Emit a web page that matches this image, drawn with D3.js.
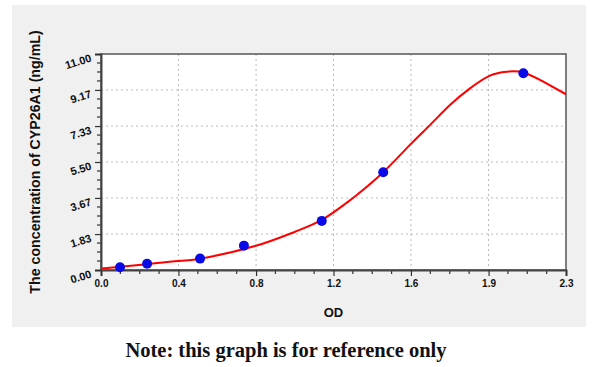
<!DOCTYPE html>
<html>
<head>
<meta charset="utf-8">
<script src="https://cdn.jsdelivr.net/npm/d3@7"></script>
<style>
  body { margin: 0; background: #fff; }
  svg { display: block; }
  text { font-family: "Liberation Sans", Arial, sans-serif; font-weight: bold; fill: #111; }
</style>
</head>
<body>
<div id="vis"></div>
<script>
// tick labels as printed on the reference
var xTickLabels = ["0.0", "0.4", "0.8", "1.2", "1.6", "1.9", "2.3"],
    xTickValues = [0, 0.383, 0.767, 1.15, 1.533, 1.917, 2.3],
    yTickLabels = ["0.00", "1.83", "3.67", "5.50", "7.33", "9.17", "11.00"],
    yTickValues = [0, 1.83, 3.67, 5.5, 7.33, 9.17, 11];

// standards (blue dots)
var odValues   = [0.094, 0.228, 0.490, 0.707, 1.092, 1.396, 2.089],
    concValues = [0.14, 0.32, 0.58, 1.24, 2.50, 4.98, 10.02];

// fitted curve
var fitOD   = [0, 0.069, 0.234, 0.382, 0.498, 0.762, 0.960, 1.092, 1.207, 1.265, 1.396,
               1.528, 1.627, 1.726, 1.825, 1.924, 2.007, 2.089, 2.188, 2.3],
    fitConc = [0.08, 0.14, 0.31, 0.46, 0.59, 1.22, 1.95, 2.55, 3.36, 3.82, 4.98,
               6.37, 7.38, 8.40, 9.25, 9.90, 10.10, 10.06, 9.59, 8.95];

var W = 600, H = 367,
    pL = 101, pT = 54, pR = 566, pB = 270;

var x = d3.scaleLinear().domain([0, 2.3]).range([pL, pR]),
    y = d3.scaleLinear().domain([0, 11]).range([pB, pT]);

var svg = d3.select("#vis").append("svg")
    .attr("width", W)
    .attr("height", H);

// grey panel
svg.append("rect")
    .attr("x", 12).attr("y", 5)
    .attr("width", 574).attr("height", 322)
    .attr("fill", "#f0f0f0");

svg.append("rect")
    .attr("x", pL).attr("y", pT)
    .attr("width", pR - pL).attr("height", pB - pT)
    .attr("fill", "#fff");

// dotted grid
svg.append("g").selectAll("line")
    .data(xTickValues.slice(1, -1))
  .enter().append("line")
    .attr("x1", function(d) { return x(d); })
    .attr("x2", function(d) { return x(d); })
    .attr("y1", pT).attr("y2", pB)
    .attr("stroke", "#bbb").attr("stroke-dasharray", "2,3");

svg.append("g").selectAll("line")
    .data(yTickValues.slice(1, -1))
  .enter().append("line")
    .attr("y1", function(d) { return y(d); })
    .attr("y2", function(d) { return y(d); })
    .attr("x1", pL).attr("x2", pR)
    .attr("stroke", "#bbb").attr("stroke-dasharray", "2,3");

// frame
svg.append("rect")
    .attr("x", pL).attr("y", pT)
    .attr("width", pR - pL).attr("height", pB - pT)
    .attr("fill", "none")
    .attr("stroke", "#555").attr("stroke-width", 1.5);

// minor ticks, 4 intervals per major
var xMinor = [], yMinor = [];
for (var i = 0; i < xTickValues.length - 1; i++) {
  for (var k = 1; k < 4; k++) {
    xMinor.push(xTickValues[i] + (xTickValues[i + 1] - xTickValues[i]) * k / 4);
    yMinor.push(yTickValues[i] + (yTickValues[i + 1] - yTickValues[i]) * k / 4);
  }
}

var xAxis = svg.append("g")
    .attr("transform", "translate(0," + pB + ")");
xAxis.selectAll("line.minor")
    .data(xMinor)
  .enter().append("line")
    .attr("x1", function(d) { return x(d); })
    .attr("x2", function(d) { return x(d); })
    .attr("y1", 0).attr("y2", 4)
    .attr("stroke", "#333").attr("stroke-width", 1.2);
xAxis.call(d3.axisBottom(x)
    .tickValues(xTickValues)
    .tickFormat(function(d, i) { return xTickLabels[i]; })
    .tickSize(6).tickPadding(4));

var yAxis = svg.append("g")
    .attr("transform", "translate(" + pL + ",0)");
yAxis.selectAll("line.minor")
    .data(yMinor)
  .enter().append("line")
    .attr("y1", function(d) { return y(d); })
    .attr("y2", function(d) { return y(d); })
    .attr("x1", 0).attr("x2", -4)
    .attr("stroke", "#333").attr("stroke-width", 1.2);
yAxis.call(d3.axisLeft(y)
    .tickValues(yTickValues)
    .tickFormat(function(d, i) { return yTickLabels[i]; })
    .tickSize(6));

svg.selectAll(".domain").attr("stroke", "#444").attr("stroke-width", 2);
svg.selectAll(".tick line").attr("stroke", "#333").attr("stroke-width", 1.2);

xAxis.selectAll(".tick text")
    .style("font-size", "10px")
    .attr("fill", "#111");

// y labels are slanted
yAxis.selectAll(".tick text")
    .style("font-size", "11px")
    .attr("fill", "#111")
    .attr("x", -10).attr("dy", null).attr("y", 7)
    .attr("transform", "rotate(-17,-10,3)");

// fitted curve
svg.append("clipPath").attr("id", "clip")
  .append("rect")
    .attr("x", pL).attr("y", pT)
    .attr("width", pR - pL).attr("height", pB - pT);

var line = d3.line()
    .x(function(d) { return x(d[0]); })
    .y(function(d) { return y(d[1]); })
    .curve(d3.curveNatural);

svg.append("path")
    .datum(d3.zip(fitOD, fitConc))
    .attr("clip-path", "url(#clip)")
    .attr("d", line)
    .attr("fill", "none")
    .attr("stroke", "#ff0000")
    .attr("stroke-width", 2);

svg.selectAll("circle")
    .data(d3.zip(odValues, concValues))
  .enter().append("circle")
    .attr("cx", function(d) { return x(d[0]); })
    .attr("cy", function(d) { return y(d[1]); })
    .attr("r", 5)
    .attr("fill", "#0a0ae6");

// axis titles
svg.append("text")
    .attr("x", (pL + pR) / 2).attr("y", 317)
    .attr("text-anchor", "middle")
    .style("font-size", "13px")
    .text("OD");

svg.append("text")
    .attr("transform", "translate(40," + ((pT + pB) / 2) + ") rotate(-90)")
    .attr("text-anchor", "middle")
    .style("font-size", "14.2px")
    .text("The concentration of CYP26A1 (ng/mL)");

svg.append("text")
    .attr("x", 286).attr("y", 357)
    .attr("text-anchor", "middle")
    .style("font-family", "'Liberation Serif', serif")
    .style("font-size", "20.5px")
    .text("Note: this graph is for reference only");
</script>
</body>
</html>
